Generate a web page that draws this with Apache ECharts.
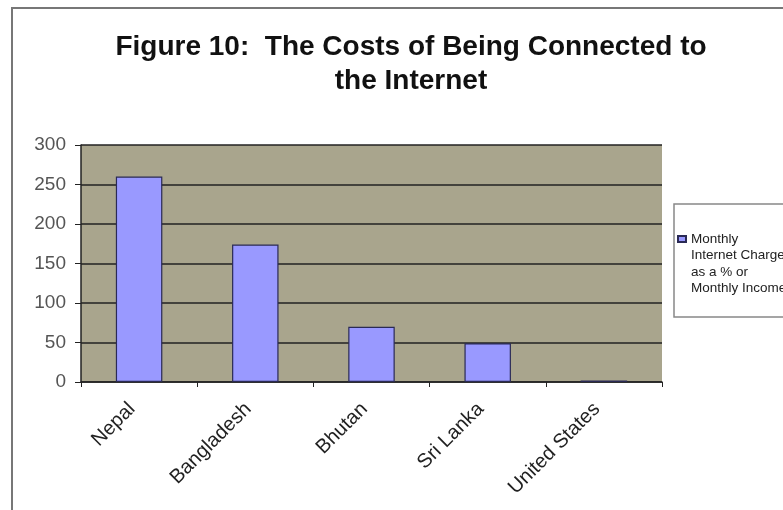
<!DOCTYPE html>
<html><head><meta charset="utf-8">
<script src="https://cdn.jsdelivr.net/npm/echarts@6/dist/echarts.min.js"></script>
<style>html,body{margin:0;padding:0;background:#fff}#c{width:783px;height:510px}</style>
</head><body><div id="c"></div>
<script>
const categories = ['Nepal', 'Bangladesh', 'Bhutan', 'Sri Lanka', 'United States'];
const values = [260, 174, 70, 49, 2];
const seriesName = 'Monthly\nInternet Charges\nas a % or\nMonthly Income';
const yTicks = [0, 50, 100, 150, 200, 250, 300];

const chart = echarts.init(document.getElementById('c'));
chart.setOption({
  animation: false,
  backgroundColor: '#fff',
  title: {
    text: 'Figure 10:  The Costs of Being Connected to\nthe Internet',
    left: 406, top: 25, textAlign: 'center',
    textStyle: { fontFamily: 'Liberation Sans', fontWeight: 'bold', fontSize: 28, lineHeight: 34, color: '#111' }
  },
  graphic: [{
    type: 'rect', shape: { x: 12, y: 8, width: 900, height: 600 },
    style: { fill: 'none', stroke: '#777', lineWidth: 2 }, silent: true
  }],
  legend: {
    left: 674, top: 204,
    orient: 'vertical',
    padding: [26, 60, 19, 3],
    borderColor: '#888', borderWidth: 1.5,
    backgroundColor: '#fff',
    itemWidth: 8, itemHeight: 66, itemGap: 0,
    symbolKeepAspect: false,
    icon: 'path://M0,0L0,0M0,5h8v6h-8zM0,66L0,66',
    textStyle: { fontFamily: 'Liberation Sans', fontSize: 13.5, lineHeight: 16.5, color: '#222' },
    data: [seriesName]
  },
  grid: { left: 81, top: 145, right: 121, height: 237, containLabel: false, backgroundColor: '#A9A58D', show: true, borderWidth: 0 },
  xAxis: {
    type: 'category', data: categories,
    axisLine: { lineStyle: { color: '#222', width: 1.5 } },
    axisTick: { show: true, length: 5, lineStyle: { color: '#222' } },
    axisLabel: { rotate: 45, fontFamily: 'Liberation Sans', fontSize: 20, color: '#222', margin: 17, padding: [0, 10, 0, 0], interval: 0 }
  },
  yAxis: {
    type: 'value', min: 0, max: 300, interval: 50,
    axisLine: { show: true, lineStyle: { color: '#222', width: 1.5 } },
    axisTick: { show: true, length: 6, lineStyle: { color: '#222' } },
    axisLabel: { fontFamily: 'Liberation Sans', fontSize: 19, color: '#555', margin: 15,
      formatter: v => yTicks.includes(v) ? String(v) : '' },
    splitLine: { show: true, lineStyle: { color: '#222', width: 1.5 } }
  },
  series: [{
    name: seriesName, type: 'bar', data: values, barWidth: '40%',
    itemStyle: { color: '#9999FF', borderColor: '#2a2a55', borderWidth: 1.2 }
  }]
});
</script></body></html>
